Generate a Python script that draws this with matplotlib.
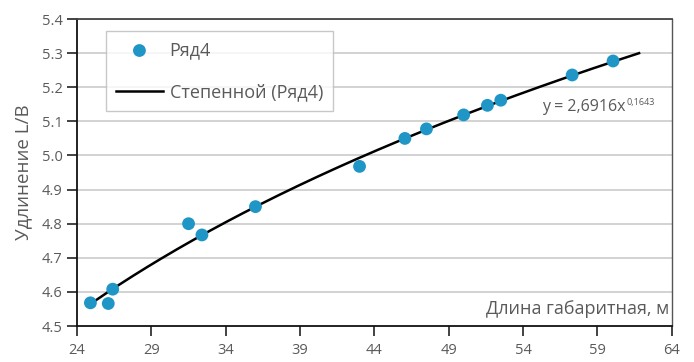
import numpy as np
import matplotlib
matplotlib.use("Agg")
import matplotlib.pyplot as plt

plt.rcParams['font.family'] = ['Open Sans', 'DejaVu Sans']

# Data
length_m = [24.9, 26.1, 26.4, 31.5, 32.4, 36.0, 43.0, 46.05, 47.5, 50.0, 51.6, 52.5, 57.3, 60.05]
elongation = [4.568, 4.566, 4.608, 4.800, 4.767, 4.850, 4.968, 5.050, 5.078, 5.119, 5.147, 5.162, 5.236, 5.277]
coef_a = 2.6916
coef_b = 0.1643
trend_x_range = [25.0, 61.8]
x_ticks = [24, 29, 34, 39, 44, 49, 54, 59, 64]
y_ticks = [4.5, 4.6, 4.7, 4.8, 4.9, 5.0, 5.1, 5.2, 5.3, 5.4]
series_label = "Ряд4"
trend_label = "Степенной (Ряд4)"

fig = plt.figure(figsize=(6.94, 3.62), dpi=100)
ax = fig.add_axes([0.111, 0.0994, 0.857, 0.848])

txt_color = '#5a5a5a'
dot_color = '#1f96c6'

for yv in y_ticks[1:]:
    ax.axhline(yv, color='#cfcfcf', lw=1.3, zorder=0)

tx = np.linspace(trend_x_range[0], trend_x_range[1], 200)
ty = coef_a * tx ** coef_b
ax.scatter(length_m, elongation, s=85, color=dot_color, zorder=3, label=series_label, edgecolors='none')
ax.plot(tx, ty, color='black', lw=1.8, zorder=2, label=trend_label)

ax.set_xlim(24, 64)
ax.set_ylim(4.5, 5.4)
ax.set_xticks(x_ticks)
ax.set_yticks(y_ticks)
ax.set_xticklabels([str(v) for v in x_ticks])
ax.set_yticklabels([f"{v:.1f}" for v in y_ticks])
ax.tick_params(axis='both', direction='out', length=7, width=1.2, colors='#222222',
               labelcolor=txt_color, labelsize=10.5)
ax.tick_params(axis='x', pad=5)

ax.spines['left'].set_color('#111111')
ax.spines['left'].set_linewidth(1.3)
ax.spines['bottom'].set_color('#111111')
ax.spines['bottom'].set_linewidth(1.3)
ax.spines['top'].set_color('#444444')
ax.spines['top'].set_linewidth(1.3)
ax.spines['right'].set_color('#555555')
ax.spines['right'].set_linewidth(1.0)

ax.set_ylabel("Удлинение L/B", fontsize=13.5, color=txt_color, labelpad=7)
ax.text(0.995, 0.025, "Длина габаритная, м", transform=ax.transAxes, ha='right', va='bottom',
        fontsize=13, color=txt_color)

eq = ax.text(0.782, 0.715, "y = 2,6916x", transform=ax.transAxes, ha='left', va='center',
             fontsize=11.5, color=txt_color)
ax.annotate("0,1643", xy=(1.0, 0.75), xycoords=eq, xytext=(0.5, 0),
            textcoords='offset points', fontsize=6.5, color=txt_color, va='center', ha='left')

leg = ax.legend(loc='upper left', bbox_to_anchor=(0.048, 0.96), frameon=True, fancybox=False,
                edgecolor='#bbbbbb', fontsize=13, labelcolor=txt_color, borderpad=0.55,
                labelspacing=1.33, handlelength=2.65, handletextpad=0.35, borderaxespad=0)
leg.get_frame().set_linewidth(1.0)

fig.savefig("out.png", dpi=100)
